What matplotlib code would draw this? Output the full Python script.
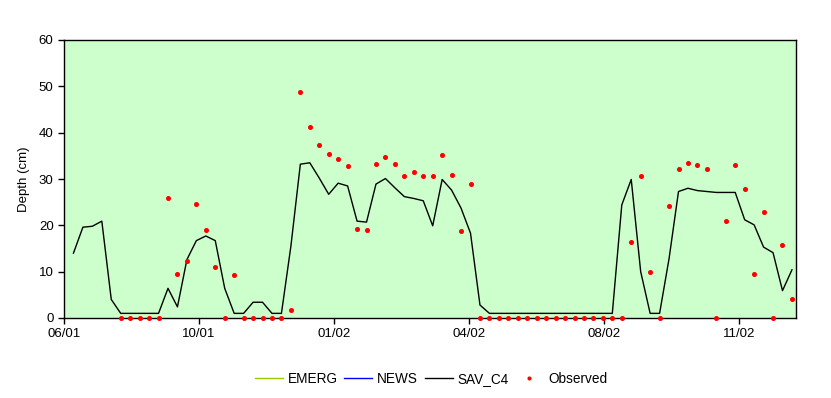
import numpy as np
import pandas as pd
import matplotlib
matplotlib.use("Agg")
import matplotlib.pyplot as plt
import matplotlib.dates as mdates

plt.rcParams['font.family'] = ['Liberation Sans', 'DejaVu Sans']

# weekly samples, 77 weeks from 5 Jul 2001
dates = pd.date_range("2001-07-05", periods=77, freq="7D")

sav_c4 = [14.0, 19.6, 19.8, 20.9, 4.0, 1.0, 1.0, 1.0, 1.0, 1.0,
          6.4, 2.4, 12.6, 16.7, 17.7, 16.7, 6.4, 1.0, 1.0, 3.4,
          3.4, 1.0, 1.0, 15.5, 33.2, 33.5, 30.2, 26.7, 29.1, 28.5,
          20.9, 20.7, 28.9, 30.1, 28.1, 26.2, 25.8, 25.3, 19.9, 29.9,
          27.6, 23.7, 18.3, 2.8, 1.0, 1.0, 1.0, 1.0, 1.0, 1.0,
          1.0, 1.0, 1.0, 1.0, 1.0, 1.0, 1.0, 1.0, 24.4, 29.9,
          10.0, 1.0, 1.0, 12.8, 27.3, 28.0, 27.5, 27.3, 27.1, 27.1,
          27.1, 21.2, 20.1, 15.3, 14.1, 5.9, 10.4]

nan = np.nan
observed = [nan, nan, nan, nan, nan, 0, 0, 0, 0, 0,
            25.9, 9.5, 12.2, 24.5, 19.0, 11.0, 0, 9.3, 0, 0,
            0, 0, 0, 1.7, 48.8, 41.2, 37.3, 35.5, 34.3, 32.8,
            19.2, 19.0, 33.2, 34.7, 33.2, 30.6, 31.5, 30.6, 30.6, 35.2,
            30.9, 18.8, 28.9, 0, 0, 0, 0, 0, 0, 0,
            0, 0, 0, 0, 0, 0, 0, 0, 0, 16.5,
            30.7, 10.0, 0, 24.2, 32.2, 33.5, 33.1, 32.2, 0, 21.0,
            33.1, 27.9, 9.4, 22.9, 0, 15.8, 4.0]

# EMERG and NEWS carry no visible values in the chart
emerg = []
news = []

fig = plt.figure(figsize=(8.31, 3.98), dpi=100)
ax = fig.add_axes([64/831, 1 - 318/398, 732/831, 278/398])
ax.set_facecolor('#CCFFCC')

ax.plot(dates[:len(emerg)], emerg, color='#99CC00', lw=1, label='EMERG')
ax.plot(dates[:len(news)], news, color='#0000FF', lw=1, label='NEWS')
ax.plot(dates, sav_c4, color='black', lw=1, label='SAV_C4')
ax.plot(dates, observed, ls='none', marker='o', ms=2.6, color='#FF0000',
        label='Observed', clip_on=False, zorder=5)

axis_start = pd.Timestamp("2001-06-28")
ax.set_xlim(axis_start, axis_start + pd.Timedelta(days=542))
ax.set_xticks([axis_start + pd.Timedelta(days=100 * i) for i in range(6)])
ax.xaxis.set_major_formatter(mdates.DateFormatter('%m/%y'))
ax.set_ylim(0, 60)
ax.set_yticks(range(0, 61, 10))
ax.tick_params(direction='out', length=4, width=1, labelsize=9.5, colors='black')
for s in ax.spines.values():
    s.set_linewidth(1)
ax.set_ylabel('Depth (cm)', fontsize=9.5, labelpad=6)

leg = ax.legend(loc='center', bbox_to_anchor=(431/831, 1 - 379/398),
                bbox_transform=fig.transFigure, ncol=4, frameon=False,
                fontsize=9.8, handlelength=2.05, handletextpad=0.35,
                columnspacing=0.5, markerscale=0.75)

fig.savefig('out.png', dpi=100, facecolor='white')
